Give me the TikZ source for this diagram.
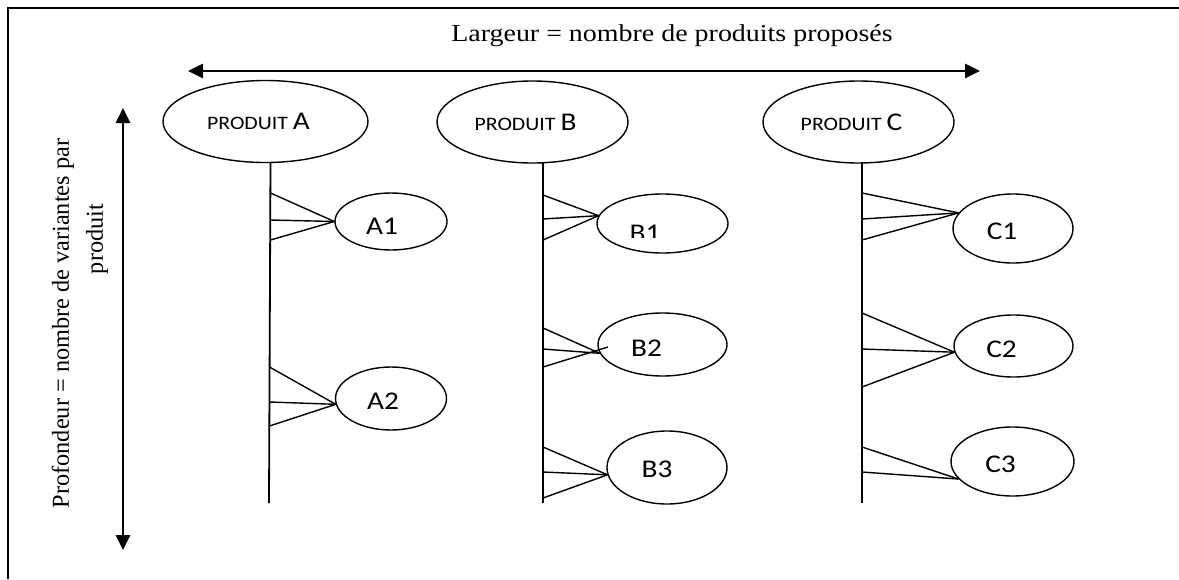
\documentclass[tikz,border=0pt]{standalone}
\usepackage{fontspec}
\setmainfont{Liberation Serif}
\newfontfamily\calib{Carlito}
\usetikzlibrary{arrows.meta,shapes.geometric}
% text in this drawing is set slightly wide
\newcommand{\wide}[1]{\scalebox{1.15}[1]{#1}}
\newcommand{\prodlabel}[1]{\wide{{\fontsize{19}{22}\selectfont PRODUIT }{\fontsize{25.5}{28}\selectfont #1}}}
\begin{document}
\begin{tikzpicture}[x=1pt,y=-1pt,
  prod/.style={draw,ellipse,line width=1.4pt,inner sep=0pt,minimum width=#1,minimum height=82pt},
  var/.style={draw,ellipse,line width=1.4pt,inner sep=0pt},
  vlbl/.style={font=\calib\fontsize{25.5}{28}\selectfont,inner sep=0pt},
  trunk/.style={line width=1.8pt},
  fan/.style={line width=1.4pt},
  dimarrow/.style={line width=2.6pt,{Triangle[length=15pt,width=14pt]}-{Triangle[length=15pt,width=14pt]}},
  captxt/.style={font=\fontsize{24.3}{28}\selectfont,inner sep=0pt}
]
\useasboundingbox (0,0) rectangle (1179,579);
% outer frame (top and left sides)
\draw[line width=1.5pt] (8,579) -- (8,8) -- (1179,8);

% dimension arrows with their captions
\coordinate (hl) at (188,71);
\coordinate (hr) at (980,71);
\draw[dimarrow] (hl) -- (hr);
\node[captxt] (largeur) at (672,36) {\wide{Largeur = nombre de produits proposés}};
\coordinate (vt) at (123,108);
\coordinate (vb) at (123,550);
\draw[dimarrow] (vt) -- (vb);
\node[captxt,rotate=90] (prof1) at (63,323.5) {Profondeur = nombre de variantes par};
\node[captxt,rotate=90] (prof2) at (97,239) {produit};

% products
\node[prod=205pt,font=\calib] (PA) at (265.5,121.5) {\hspace*{-14pt}\prodlabel{A}};
\node[prod=191pt,font=\calib] (PB) at (532.5,122) {\hspace*{-14pt}\prodlabel{B}};
\node[prod=191pt,font=\calib] (PC) at (858.5,122) {\hspace*{-14pt}\prodlabel{C}};

% trunks
\coordinate (Aend) at (269,503);
\coordinate (Bend) at (543,503);
\coordinate (Cend) at (862,503);
\draw[trunk] (PA.south) ++(5,0) coordinate (Atop) -- (Aend);
\draw[trunk] (543,162) coordinate (Btop) -- (Bend);
\draw[trunk] (862,162) coordinate (Ctop) -- (Cend);

% variants
\node[var,minimum width=112pt,minimum height=57pt,
  label={[vlbl,xshift=-9pt,yshift=-5pt]center:\wide{A1}}] (A1) at (391,221.5) {};
\node[var,minimum width=111pt,minimum height=63pt,
  label={[vlbl,xshift=-8pt,yshift=-3pt]center:\wide{A2}}] (A2) at (391,398.5) {};
\node[var,minimum width=131pt,minimum height=59pt] (B1) at (662.5,223.5) {};
\begin{scope}
  \clip (600,180) rectangle (720,237);
  \node[vlbl] (B1t) at (645,233.5) {\wide{B1}};
\end{scope}
\node[var,minimum width=129pt,minimum height=63pt,
  label={[vlbl,xshift=-16pt,yshift=-4pt]center:\wide{B2}}] (B2) at (662.5,344.5) {};
\node[var,minimum width=120pt,minimum height=73pt,
  label={[vlbl,xshift=-10pt,yshift=-2pt]center:\wide{B3}}] (B3) at (667,467.5) {};
\node[var,minimum width=120pt,minimum height=69pt,
  label={[vlbl,xshift=-11pt,yshift=-3pt]center:\wide{C1}}] (C1) at (1013,228.5) {};
\node[var,minimum width=119pt,minimum height=62pt,
  label={[vlbl,xshift=-12pt,yshift=-3pt]center:\wide{C2}}] (C2) at (1013.5,346) {};
\node[var,minimum width=123pt,minimum height=69pt,
  label={[vlbl,xshift=-12pt,yshift=-3pt]center:\wide{C3}}] (C3) at (1012.5,461.5) {};

% fans joining each variant to its product line
\foreach \y in {193,220,240} \draw[fan] (270.5,\y) -- (A1.west);
\foreach \y in {367,402,426} \draw[fan] (269.5,\y) -- (A2.186);
\foreach \y in {195,219,240} \draw[fan] (543,\y) -- (B1.173);
\foreach \y in {328,349} \draw[fan] (543,\y) -- (B2.188);
\coordinate (B2in) at (608,347);
\draw[fan] (543,367) -- (B2in);
\foreach \y in {447,472,498} \draw[fan] (543,\y) -- (B3.187);
\foreach \y in {193,219,240} \draw[fan] (862,\y) -- (C1.164);
\foreach \y in {313,349,387} \draw[fan] (862,\y) -- (C2.186);
\foreach \y in {447,472} \draw[fan] (862,\y) -- (C3.198);
\end{tikzpicture}
\end{document}
